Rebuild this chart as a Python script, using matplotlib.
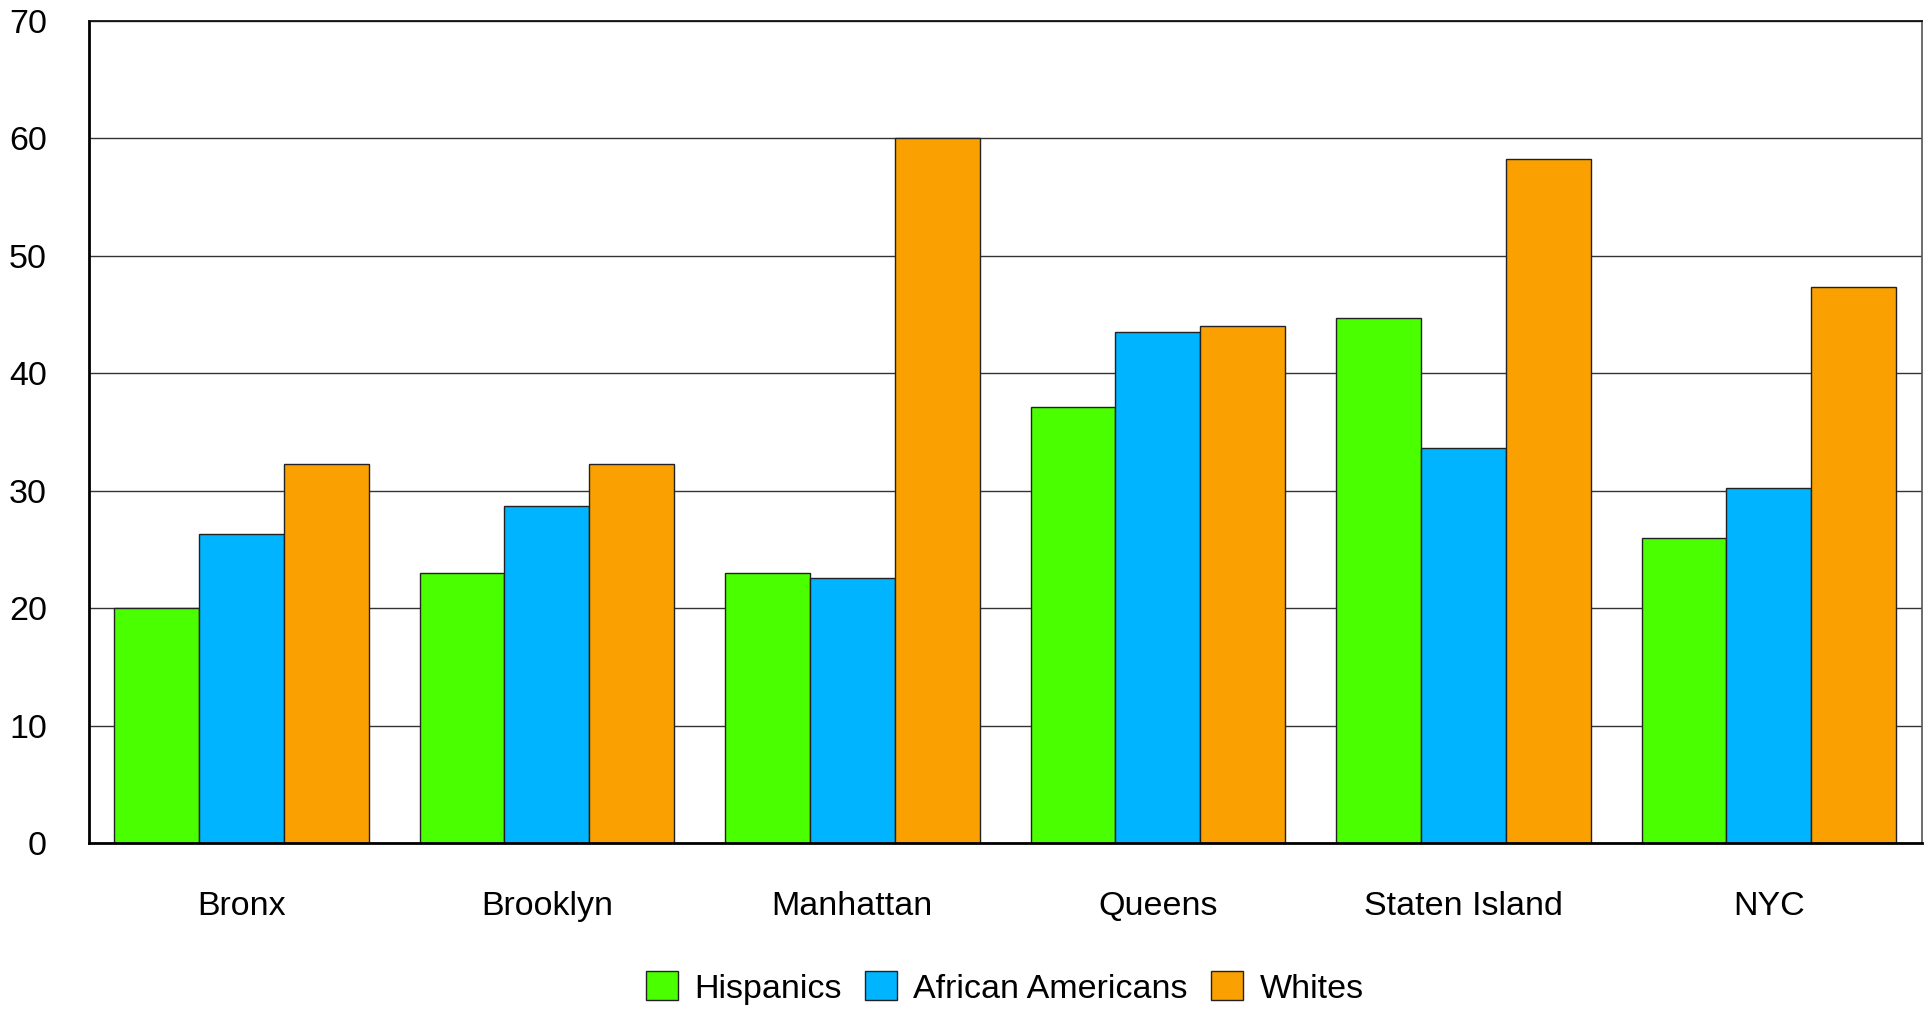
import matplotlib
matplotlib.use("Agg")
import matplotlib.pyplot as plt
import numpy as np

categories = ["Bronx", "Brooklyn", "Manhattan", "Queens", "Staten Island", "NYC"]
series_names = ["Hispanics", "African Americans", "Whites"]
hispanics = [20.0, 23.0, 23.0, 37.1, 44.7, 26.0]
african_americans = [26.3, 28.7, 22.6, 43.5, 33.6, 30.2]
whites = [32.3, 32.3, 60.0, 44.0, 58.2, 47.3]
colors = ["#4aff00", "#00b4ff", "#faa000"]
yticks = [0, 10, 20, 30, 40, 50, 60, 70]

plt.rcParams['font.family'] = ['Liberation Sans', 'DejaVu Sans']

W, H = 1929, 1010
FS = 24.5
fig = plt.figure(figsize=(W / 100, H / 100), dpi=100)
ax = fig.add_axes([88.6 / W, 1 - 843.3 / H, (1921.6 - 88.6) / W, (843.3 - 20.7) / H])

x = np.arange(len(categories))
bw = 0.2775
data = [hispanics, african_americans, whites]
for i, (vals, c, name) in enumerate(zip(data, colors, series_names)):
    ax.bar(x + (i - 1) * bw, vals, width=bw, color=c, edgecolor="#222222",
           linewidth=1.0, label=name, zorder=3)

ax.set_xlim(-0.5, len(categories) - 0.5)
ax.set_ylim(0, 70)
ax.set_yticks(yticks)
ax.set_yticklabels([str(t) for t in yticks])
ax.set_xticks(x)
ax.set_xticklabels(categories)
ax.tick_params(axis='y', length=0, pad=30, labelsize=FS)
ax.tick_params(axis='x', length=0, pad=34, labelsize=FS)
ax.yaxis.grid(True, color="#333333", linewidth=1.0, zorder=0)
ax.set_axisbelow(True)

ax.spines['left'].set_linewidth(2.0)
ax.spines['left'].set_color('black')
ax.spines['bottom'].set_linewidth(2.0)
ax.spines['bottom'].set_color('black')
ax.spines['bottom'].set_zorder(5)
ax.spines['top'].set_linewidth(1.3)
ax.spines['top'].set_color('#111111')
ax.spines['right'].set_linewidth(1.2)
ax.spines['right'].set_color('#555555')

fig.legend(loc='center', bbox_to_anchor=(1005 / W, 1 - 988 / H), ncol=3,
           frameon=False, fontsize=FS, handlelength=0.94, handleheight=0.94,
           handletextpad=0.47, columnspacing=0.69, borderpad=0, borderaxespad=0)

fig.savefig("out.png", dpi=100, facecolor="white")
